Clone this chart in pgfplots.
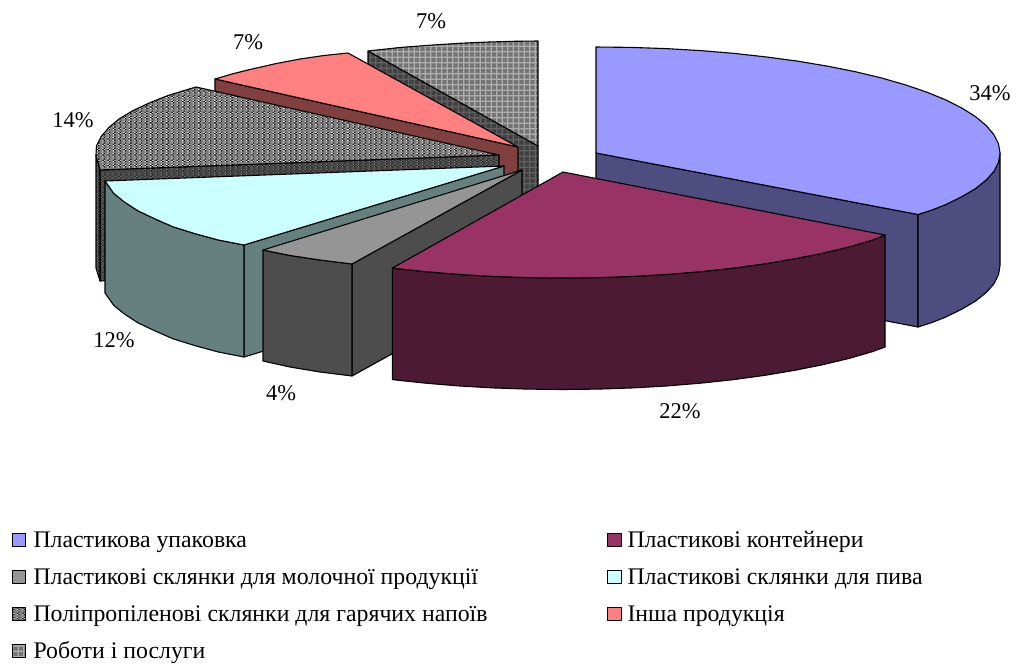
\documentclass[border=0pt]{standalone}
\usepackage{fontspec}
\setmainfont{Liberation Serif}
\usepackage{pgfplots}
\pgfplotsset{compat=1.18}
\usetikzlibrary{patterns}

\definecolor{blueTop}{HTML}{9999FF}
\definecolor{blueWall}{HTML}{4D4D80}
\definecolor{wineTop}{HTML}{993366}
\definecolor{wineWall}{HTML}{4D1A33}
\definecolor{cyanTop}{HTML}{CCFFFF}
\definecolor{cyanWall}{HTML}{668080}
\definecolor{redTop}{HTML}{FF8080}
\definecolor{redWall}{HTML}{804040}
\definecolor{milkTop}{HTML}{959595}
\definecolor{milkWall}{HTML}{4D4D4D}

% Tiles overlap a little so no seams show between them
% Checker dots on grey: hot-drink cups
\pgfdeclarepatterninherentlycolored{hotTop}{\pgfqpoint{-0.8pt}{-0.8pt}}{\pgfqpoint{6.13pt}{6.13pt}}{\pgfqpoint{5.33pt}{5.33pt}}{%
  \pgfsetfillcolor{black!50}\pgfpathrectangle{\pgfqpoint{-0.8pt}{-0.8pt}}{\pgfqpoint{6.93pt}{6.93pt}}\pgfusepath{fill}%
  \pgfsetfillcolor{white}%
  \pgfpathrectangle{\pgfqpoint{1pt}{0.9pt}}{\pgfqpoint{1.3pt}{1.2pt}}%
  \pgfpathrectangle{\pgfqpoint{2.3pt}{2.1pt}}{\pgfqpoint{1.3pt}{1.2pt}}%
  \pgfpathrectangle{\pgfqpoint{1pt}{3.3pt}}{\pgfqpoint{1.3pt}{1.2pt}}\pgfusepath{fill}%
  \pgfsetfillcolor{black}%
  \pgfpathrectangle{\pgfqpoint{2.3pt}{0.9pt}}{\pgfqpoint{1.3pt}{1.2pt}}%
  \pgfpathrectangle{\pgfqpoint{1pt}{2.1pt}}{\pgfqpoint{1.3pt}{1.2pt}}%
  \pgfpathrectangle{\pgfqpoint{2.3pt}{3.3pt}}{\pgfqpoint{1.3pt}{1.2pt}}\pgfusepath{fill}}
\pgfdeclarepatterninherentlycolored{hotWall}{\pgfqpoint{-0.8pt}{-0.8pt}}{\pgfqpoint{6.13pt}{6.13pt}}{\pgfqpoint{5.33pt}{5.33pt}}{%
  \pgfsetfillcolor{black!72}\pgfpathrectangle{\pgfqpoint{-0.8pt}{-0.8pt}}{\pgfqpoint{6.93pt}{6.93pt}}\pgfusepath{fill}%
  \pgfsetfillcolor{black!45}%
  \pgfpathrectangle{\pgfqpoint{1pt}{0.9pt}}{\pgfqpoint{1.3pt}{1.2pt}}%
  \pgfpathrectangle{\pgfqpoint{2.3pt}{2.1pt}}{\pgfqpoint{1.3pt}{1.2pt}}%
  \pgfpathrectangle{\pgfqpoint{1pt}{3.3pt}}{\pgfqpoint{1.3pt}{1.2pt}}\pgfusepath{fill}%
  \pgfsetfillcolor{black!90}%
  \pgfpathrectangle{\pgfqpoint{2.3pt}{0.9pt}}{\pgfqpoint{1.3pt}{1.2pt}}%
  \pgfpathrectangle{\pgfqpoint{1pt}{2.1pt}}{\pgfqpoint{1.3pt}{1.2pt}}%
  \pgfpathrectangle{\pgfqpoint{2.3pt}{3.3pt}}{\pgfqpoint{1.3pt}{1.2pt}}\pgfusepath{fill}}
% Plaid: works and services
\pgfdeclarepatterninherentlycolored{plaidTop}{\pgfqpoint{-0.8pt}{-0.8pt}}{\pgfqpoint{6.3pt}{6.3pt}}{\pgfqpoint{5.5pt}{5.5pt}}{%
  \pgfsetfillcolor{black!55}\pgfpathrectangle{\pgfqpoint{-0.8pt}{-0.8pt}}{\pgfqpoint{7.1pt}{7.1pt}}\pgfusepath{fill}%
  \pgfsetfillcolor{black!32}%
  \pgfpathrectangle{\pgfqpoint{1pt}{-0.8pt}}{\pgfqpoint{1.3pt}{7.1pt}}%
  \pgfpathrectangle{\pgfqpoint{-0.8pt}{1pt}}{\pgfqpoint{7.1pt}{1.3pt}}\pgfusepath{fill}}
\pgfdeclarepatterninherentlycolored{plaidWall}{\pgfqpoint{-0.8pt}{-0.8pt}}{\pgfqpoint{6.3pt}{6.3pt}}{\pgfqpoint{5.5pt}{5.5pt}}{%
  \pgfsetfillcolor{black!75}\pgfpathrectangle{\pgfqpoint{-0.8pt}{-0.8pt}}{\pgfqpoint{7.1pt}{7.1pt}}\pgfusepath{fill}%
  \pgfsetfillcolor{black!62}%
  \pgfpathrectangle{\pgfqpoint{1pt}{-0.8pt}}{\pgfqpoint{1.3pt}{7.1pt}}%
  \pgfpathrectangle{\pgfqpoint{-0.8pt}{1pt}}{\pgfqpoint{7.1pt}{1.3pt}}\pgfusepath{fill}}

\begin{document}
\begin{tikzpicture}
\begin{axis}[
  width=1016pt, height=664pt, scale only axis,
  xmin=0, xmax=1016, ymin=0, ymax=664, y dir=reverse,
  axis line style={draw=none}, xtick=\empty, ytick=\empty,
  every axis plot/.append style={draw=black, line width=1.1pt, line join=round, forget plot},
  legend image code/.code={\draw[#1, line width=1pt] (0pt,-3.5pt) rectangle (13.5pt,9.5pt);},
  legend columns=2,
  legend cell align=left,
  legend style={
    at={(axis cs:12,532.5)}, anchor=north west, draw=none, fill=none,
    inner sep=0pt, outer sep=0pt,
    font=\fontsize{23.8}{28}\selectfont,
    nodes={inner sep=0pt, outer sep=0pt, text height=15pt, text depth=5pt},
    /tikz/row sep=17pt,
    /tikz/column 1/.style={column sep=7pt},
    /tikz/column 2/.style={column sep=119.5pt},
    /tikz/column 3/.style={column sep=6pt},
  },
]

% Works and services
\addplot[pattern=plaidWall] coordinates {(368,51) (538,146) (538,258) (368,163)} --cycle;
\addplot[pattern=plaidTop] coordinates {(538,146) (368,51) (400,47.5) (433,45) (461,43.2) (489,42) (514,41.3) (538,41)} --cycle;

% Other products
\addplot[fill=redWall] coordinates {(215,79) (518,147) (518,259) (215,191)} --cycle;
\addplot[fill=redTop] coordinates {(518,147) (215,79) (232,74) (250,69.5) (275,63.8) (300,59) (324,55.5) (348,53)} --cycle;

% Polypropylene cups for hot drinks
\addplot[pattern=hotWall] coordinates {(100,170) (499,155) (499,267) (100,281)} --cycle;
\addplot[pattern=hotWall] coordinates {(96,155) (100,170) (100,281) (96,268)} --cycle;
\addplot[pattern=hotTop] coordinates {(499,155) (196,87) (185,90.3) (168,95.5) (149.1,103) (132.9,110.7) (119.4,118.7) (108.8,127.6) (101.1,136.6) (96.5,145.8) (96,155) (100,170)} --cycle;

% Plastic cups for beer
\addplot[fill=cyanWall] coordinates {(244,245) (504,166) (504,278) (244,357)} --cycle;
\addplot[fill=cyanWall] coordinates {(105,181) (113.8,193.4) (124.4,202) (137.9,210.8) (154.1,218.5) (173,226.8) (194.5,233.5) (218.3,240) (244,245) (244,357) (218.3,352) (194.5,345.5) (173,338.8) (154.1,330.5) (137.9,322.8) (124.4,314) (113.8,305.4) (105,293)} --cycle;
\addplot[fill=cyanTop] coordinates {(504,166) (105,181) (113.8,193.4) (124.4,202) (137.9,210.8) (154.1,218.5) (173,226.8) (194.5,233.5) (218.3,240) (244,245)} --cycle;

% Plastic cups for dairy products
\addplot[fill=milkWall] coordinates {(352,264) (522,170) (522,282) (352,376)} --cycle;
\addplot[fill=milkWall] coordinates {(263,250) (290,255.5) (320,260) (352,264) (352,376) (320,372) (290,367) (263,361)} --cycle;
\addplot[fill=milkTop] coordinates {(522,170) (263,250) (290,255.5) (320,260) (352,264)} --cycle;

% Plastic packaging
\addplot[fill=blueWall] coordinates {(596,153) (918,214.5) (918,327) (596,265)} --cycle;
\addplot[fill=blueWall] coordinates {(1000,153) (998.5,162.2) (993.9,171.4) (986.2,180) (975.6,188.5) (962.1,196.5) (945.9,204.5) (932,210) (918,214.5) (918,327) (932,322.5) (945.9,317) (962.1,309) (975.6,301) (986.2,292.5) (993.9,283.9) (998.5,274.7) (1000,265.5)} --cycle;
\addplot[fill=blueTop] coordinates {(596,153) (596,47) (631.2,47.4) (666.1,48.6) (700.6,50.6) (734.2,53.4) (766.7,57) (798,61.2) (827.7,66.2) (855.7,71.8) (881.7,78) (905.5,84.9) (927,92.2) (945.9,100) (962.1,108.2) (975.6,116.7) (986.2,125.6) (993.9,134.6) (998.5,143.8) (1000,153) (998.5,162.2) (993.9,171.4) (986.2,180) (975.6,188.5) (962.1,196.5) (945.9,204.5) (932,210) (918,214.5)} --cycle;

% Plastic containers
\addplot[fill=wineWall] coordinates {(885,235) (872.5,240.1) (848.7,247) (822.7,253.2) (794.7,258.8) (765,263.8) (733.7,268.1) (701.2,271.6) (667.6,274.4) (633.1,276.4) (598.2,277.6) (563,278) (527.8,277.6) (492.9,276.4) (458.4,274.4) (424.8,271.6) (392.3,268.1) (392.3,379.6) (424.8,383.1) (458.4,385.9) (492.9,387.9) (527.8,389.1) (563,389.5) (598.2,389.1) (633.1,387.9) (667.6,385.9) (701.2,383.1) (733.7,379.6) (765,375.3) (794.7,370.3) (822.7,364.7) (848.7,358.5) (872.5,351.6) (885,347)} --cycle;
\addplot[fill=wineTop] coordinates {(563,172) (885,235) (872.5,240.1) (848.7,247) (822.7,253.2) (794.7,258.8) (765,263.8) (733.7,268.1) (701.2,271.6) (667.6,274.4) (633.1,276.4) (598.2,277.6) (563,278) (527.8,277.6) (492.9,276.4) (458.4,274.4) (424.8,271.6) (392.3,268.1)} --cycle;

% Share labels
\begin{scope}[every node/.style={font=\fontsize{22.5}{27}\selectfont, inner sep=0pt}]
\node at (axis cs:990,93) {34\%};
\node at (axis cs:680,411) {22\%};
\node at (axis cs:281,393) {4\%};
\node at (axis cs:114,340) {12\%};
\node at (axis cs:73,120) {14\%};
\node at (axis cs:248,42) {7\%};
\node at (axis cs:431,21) {7\%};
\end{scope}

\addlegendimage{fill=blueTop}
\addlegendentry{Пластикова упаковка}
\addlegendimage{fill=wineTop}
\addlegendentry{Пластикові контейнери}
\addlegendimage{fill=milkTop}
\addlegendentry{Пластикові склянки для молочної продукції}
\addlegendimage{fill=cyanTop}
\addlegendentry{Пластикові склянки для пива}
\addlegendimage{pattern=hotTop}
\addlegendentry{Поліпропіленові склянки для гарячих напоїв}
\addlegendimage{fill=redTop}
\addlegendentry{Інша продукція}
\addlegendimage{pattern=plaidTop}
\addlegendentry{Роботи і послуги}
\end{axis}
\end{tikzpicture}
\end{document}
